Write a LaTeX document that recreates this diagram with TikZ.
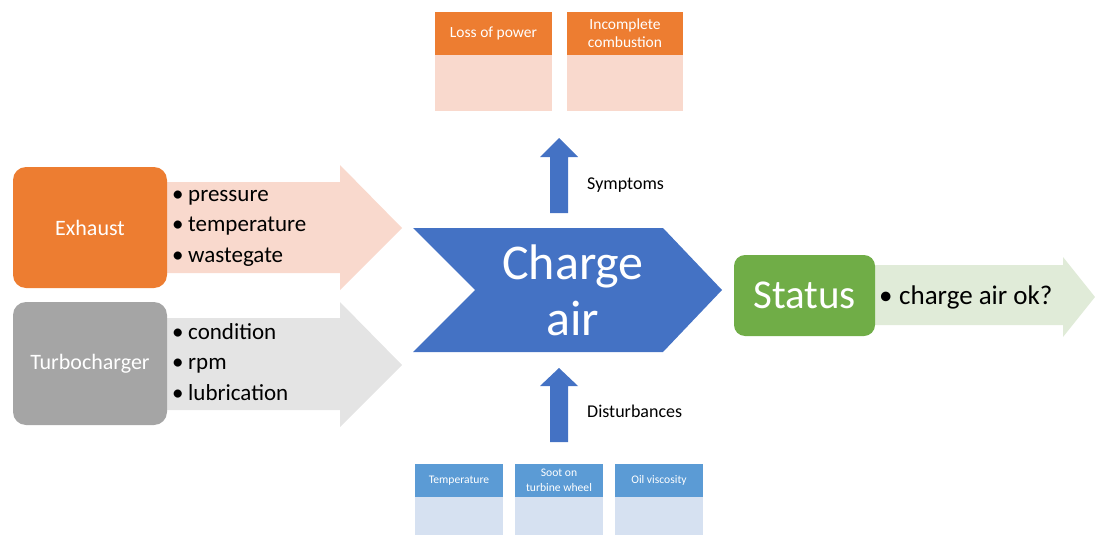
\documentclass[tikz,border=0pt]{standalone}
\usepackage{fontspec}
\setmainfont{Carlito}
\definecolor{orng}{HTML}{ED7D31}
\definecolor{pinklt}{HTML}{F9D9CD}
\definecolor{greydk}{HTML}{A5A5A5}
\definecolor{greylt}{HTML}{E4E4E4}
\definecolor{blu}{HTML}{4472C4}
\definecolor{blumid}{HTML}{5B9BD5}
\definecolor{blult}{HTML}{D6E1F1}
\definecolor{grn}{HTML}{70AD47}
\definecolor{grnlt}{HTML}{E0EBD8}
\newcommand{\bul}{\makebox[16pt][l]{•}}
\begin{document}
\begin{tikzpicture}[x=1pt,y=-1pt,
  every node/.style={inner sep=0pt},
  srcbox/.style={rounded corners=13pt, text=white, font=\fontsize{22}{26}\selectfont},
  listtxt/.style={anchor=west, align=left, font=\fontsize{23}{30.5}\selectfont},
  smalltxt/.style={font=\fontsize{18}{22}\selectfont, anchor=west},
  symhead/.style={fill=orng, text=white, align=center, font=\fontsize{15.5}{18}\selectfont},
  dishead/.style={fill=blumid, text=white, align=center, font=\fontsize{11.6}{14.5}\selectfont}]
\useasboundingbox (0,0) rectangle (1095,535);

% input block arrows
\fill[pinklt] (150,182) -- (340,182) -- (340,165) -- (402,228) -- (340,290) -- (340,273) -- (150,273) -- cycle;
\fill[greylt] (150,318) -- (340,318) -- (340,302) -- (402,365) -- (340,427) -- (340,410) -- (150,410) -- cycle;

% source boxes
\node[srcbox, fill=orng, minimum width=154, minimum height=121] (exhaust) at (90,227.5) {Exhaust};
\node[srcbox, fill=greydk, minimum width=154, minimum height=123] (turbo) at (90,363.5) {Turbocharger};

\node[listtxt] (exlist) at (172,228) {\bul pressure\\\bul temperature\\\bul wastegate};
\node[listtxt] (tblist) at (172,362) {\bul condition\\\bul rpm\\\bul lubrication};

% central chevron
\fill[blu] (413,228) -- (663,228) -- (722,290) -- (663,352) -- (413,352) -- (475,290) -- cycle;
\node[text=white, align=center, font=\fontsize{50}{56}\selectfont] (charge) at (573,290) {Charge\\air};

% status output
\fill[grnlt] (860,265) -- (1063,265) -- (1063,257) -- (1095,297) -- (1063,337) -- (1063,325) -- (860,325) -- cycle;
\node[rounded corners=11pt, fill=grn, text=white, minimum width=141, minimum height=81,
  font=\fontsize{41}{48}\selectfont] (status) at (804.5,295.5) {Status};
\node[anchor=west, font=\fontsize{27}{32}\selectfont] (ok) at (879,297) {\makebox[20pt][l]{•}charge air ok?};

% vertical block arrows
\fill[blu] (550,213) -- (550,157) -- (540,157) -- (559,138) -- (578,157) -- (568,157) -- (568,213) -- cycle;
\fill[blu] (550,442) -- (550,386) -- (540,386) -- (559,368) -- (578,386) -- (568,386) -- (568,442) -- cycle;
\node[smalltxt] (symp) at (587,185) {Symptoms};
\node[smalltxt] (dist) at (587,411) {Disturbances};

% symptom cards
\fill[pinklt] (435,55) rectangle (552,111);
\fill[pinklt] (567,55) rectangle (683,111);
\node[symhead, minimum width=117, minimum height=43] (loss) at (493.5,33.5) {Loss of power};
\node[symhead, minimum width=116, minimum height=43] (incomp) at (625,33.5) {Incomplete\\combustion};

% disturbance cards
\fill[blult] (415,497) rectangle (503,535);
\fill[blult] (515,497) rectangle (603,535);
\fill[blult] (615,497) rectangle (703,535);
\node[dishead, minimum width=88, minimum height=33] (temp) at (459,480.5) {Temperature};
\node[dishead, minimum width=88, minimum height=33] (soot) at (559,480.5) {Soot on\\turbine wheel};
\node[dishead, minimum width=88, minimum height=33] (oil) at (659,480.5) {Oil viscosity};
\end{tikzpicture}
\end{document}
